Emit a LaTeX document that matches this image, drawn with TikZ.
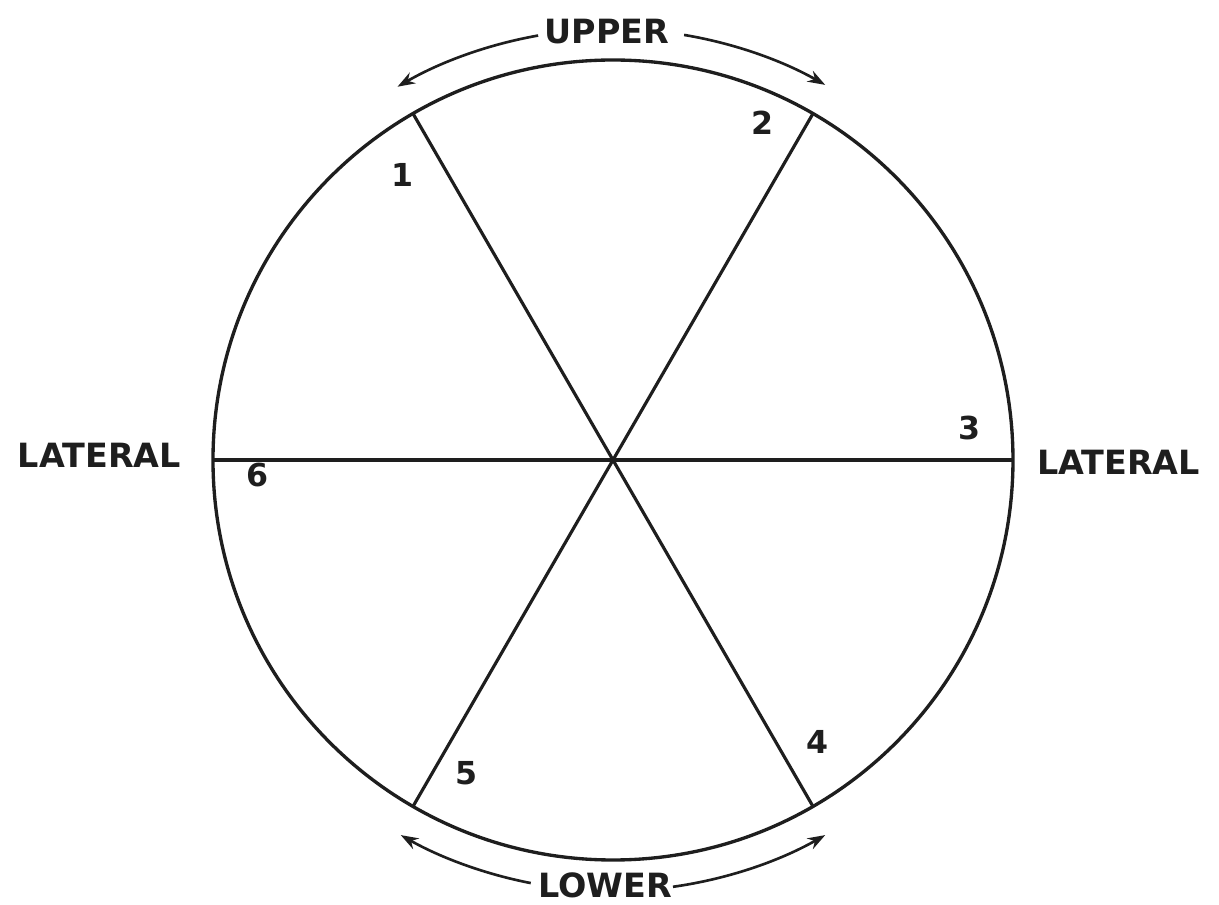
\documentclass[tikz,border=0pt]{standalone}
\usepackage{fontspec}
\setmainfont{DejaVu Sans}
\usepackage{xcolor}
\definecolor{inkgray}{RGB}{30,30,30}
\usetikzlibrary{arrows.meta,positioning}
\tikzset{
  wheel/.style={draw=inkgray, circle, line width=1.9pt, minimum size=16cm,
                inner sep=0pt, outer sep=0pt},
  spoke/.style={draw=inkgray, line width=1.8pt},
  sidearrow/.style={draw=inkgray, line width=1.5pt,
                    -{Stealth[length=10pt,width=7pt]}},
  spokenum/.style={font=\fontsize{18}{20}\selectfont\bfseries, text=inkgray, inner sep=1pt},
  sidelabel/.style={font=\fontsize{19}{22}\selectfont\bfseries, text=inkgray, inner sep=1pt},
}

\begin{document}
\begin{tikzpicture}
\useasboundingbox (-12.26,-8.9) rectangle (12.12,9.2);

% --- Circle and spokes ---
\node[wheel] (wheel) at (0,0) {};
\draw[spoke] (wheel.120) -- (wheel.-60);
\draw[spoke] (wheel.60) -- (wheel.-120);
\draw[spoke] (wheel.180) -- (wheel.0);

% --- Spoke numbers ---
\node[spokenum] (n1) at (-4.2,5.7) {1};
\node[spokenum] (n2) at (3.0,6.74) {2};
\node[spokenum] (n3) at (7.14,0.64) {3};
\node[spokenum] (n4) at (4.1,-5.64) {4};
\node[spokenum] (n5) at (-2.92,-6.26) {5};
\node[spokenum] (n6) at (-7.1,-0.3) {6};

% --- Side labels ---
\node[sidelabel, anchor=east] (lat-left) at (-8.6,0.1) {LATERAL};
\node[sidelabel, anchor=west] (lat-right) at (8.44,-0.04) {LATERAL};
\node[sidelabel] (upper) at (-0.12,8.56) {UPPER};
\node[sidelabel] (lower) at (-0.16,-8.5) {LOWER};

% Upper arrows
\draw[sidearrow] (100:8.62) arc[start angle=100, end angle=120, radius=8.62];
\draw[sidearrow] (80.5:8.62) arc[start angle=80.5, end angle=60.5, radius=8.62];

% Lower arrows
\draw[sidearrow] (-101:8.62) arc[start angle=-101, end angle=-119.5, radius=8.62];
\draw[sidearrow] (-82:8.62) arc[start angle=-82, end angle=-60.5, radius=8.62];

\end{tikzpicture}
\end{document}
